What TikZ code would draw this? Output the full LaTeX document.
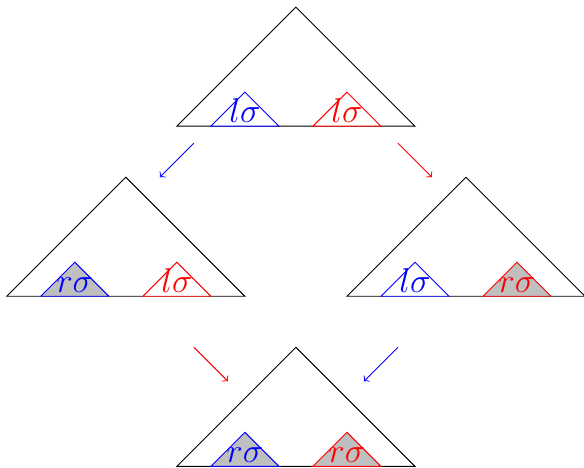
\documentclass[tikz,border=0pt]{standalone}
\usepackage{amsmath}
\usepackage{tikz}
\usetikzlibrary{arrows}

\begin{document}
\begin{tikzpicture}[x=0.5cm,y=0.5cm]
\useasboundingbox (-0.2,-0.03) rectangle (16.97,13.71);
% big triangles
\foreach \x/\y in {5/10, 0/5, 10/5, 5/0}
  \draw (\x,\y) -- (\x+3.5,\y+3.5) -- (\x+7,\y) -- cycle;
% small triangles with labels
\foreach \x/\y/\c/\f/\t [count=\i] in {6/10/blue/white/l, 9/10/red/white/l,
    1/5/blue/lightgray/r, 4/5/red/white/l,
    11/5/blue/white/l, 14/5/red/lightgray/r,
    6/0/blue/lightgray/r, 9/0/red/lightgray/r}
{
  \draw[\c, fill=\f] (\x,\y) -- (\x+1,\y+1) -- (\x+2,\y) -- cycle;
  \node[\c, font=\Large, anchor=base, inner sep=0pt] (lab\i) at (\x+1,\y+0.12) {$\t\sigma$};
}
% arrows between the trees
\coordinate (tl1) at (5.5,9.5);  \coordinate (tl2) at (4.5,8.5);
\coordinate (tr1) at (11.5,9.5); \coordinate (tr2) at (12.5,8.5);
\coordinate (bl1) at (5.5,3.5);  \coordinate (bl2) at (6.5,2.5);
\coordinate (br1) at (11.5,3.5); \coordinate (br2) at (10.5,2.5);
\draw[->, blue] (tl1) -- (tl2);
\draw[->, red] (tr1) -- (tr2);
\draw[->, red] (bl1) -- (bl2);
\draw[->, blue] (br1) -- (br2);
\end{tikzpicture}
\end{document}
